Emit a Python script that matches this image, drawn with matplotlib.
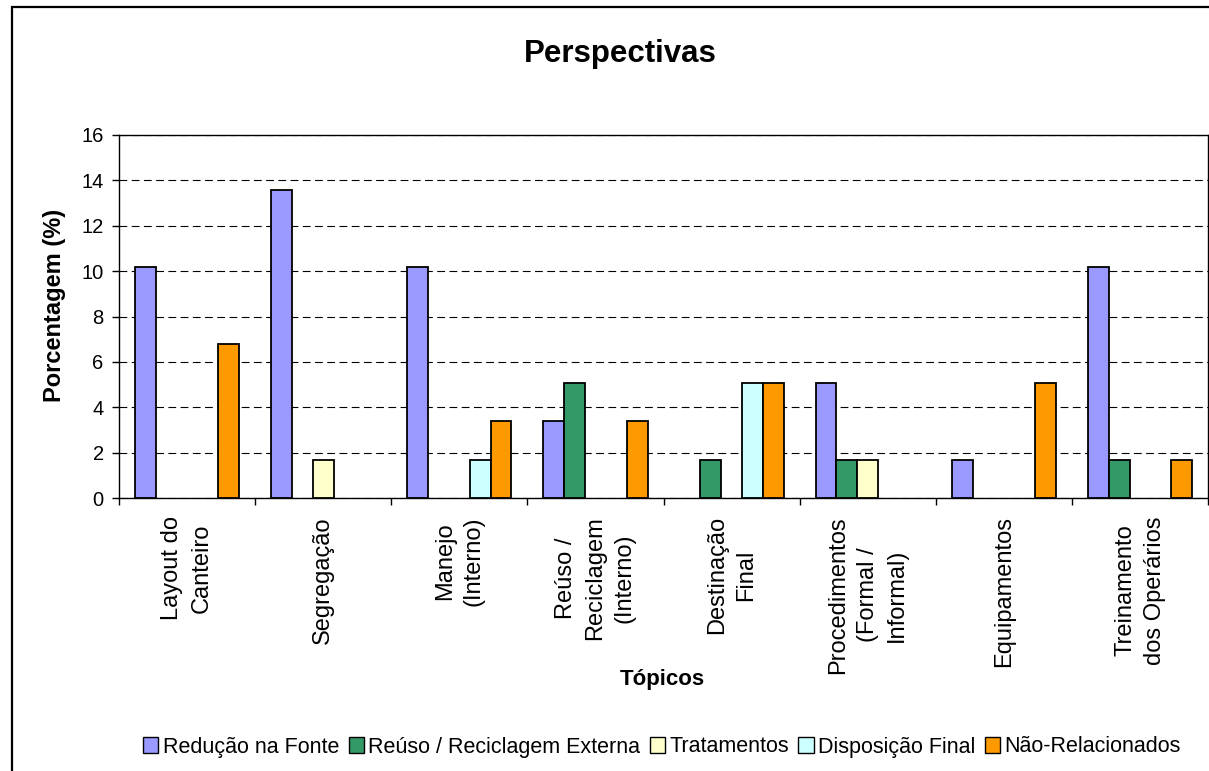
import numpy as np
import matplotlib.pyplot as plt
from matplotlib.patches import Rectangle

plt.rcParams['font.family'] = ['Liberation Sans', 'DejaVu Sans']

topicos = ["Layout do\nCanteiro", "Segregação", "Manejo\n(Interno)",
           "Reúso /\nReciclagem\n(Interno)", "Destinação\nFinal",
           "Procedimentos\n(Formal /\nInformal)", "Equipamentos",
           "Treinamento\ndos Operários"]

series_names = ["Redução na Fonte", "Reúso / Reciclagem Externa", "Tratamentos",
                "Disposição Final", "Não-Relacionados"]
series_colors = ["#9999FF", "#339966", "#FFFFCC", "#CCFFFF", "#FF9900"]

reducao = [10.17, 13.56, 10.17, 3.39, 0, 5.08, 1.69, 10.17]
reuso_ext = [0, 0, 0, 5.08, 1.69, 1.69, 0, 1.69]
tratamentos = [0, 1.69, 0, 0, 0, 1.69, 0, 0]
disposicao = [0, 0, 1.69, 0, 5.08, 0, 0, 0]
nao_rel = [6.78, 0, 3.39, 3.39, 5.08, 0, 5.08, 1.69]
series = [reducao, reuso_ext, tratamentos, disposicao, nao_rel]

W, H = 1209, 771
fig = plt.figure(figsize=(W / 100, H / 100), dpi=100)
ax = fig.add_axes([119 / W, 1 - 498 / H, (1208 - 119) / W, (498 - 135) / H])

x = np.arange(len(topicos))
bw = 0.153
for i, (vals, name, col) in enumerate(zip(series, series_names, series_colors)):
    vals = np.array(vals)
    pos = x + (i - 2) * bw
    m = vals > 0
    ax.bar(pos[m], vals[m], bw, color=col, edgecolor='black', linewidth=1.3,
           zorder=3)
    # proxy for legend
    ax.bar([0], [0], 0, color=col, edgecolor='black', linewidth=1.0, label=name)

ax.set_xlim(-0.5, len(topicos) - 0.5)
ax.set_ylim(0, 16)
ax.set_yticks(np.arange(0, 17, 2))
ax.yaxis.grid(True, color='black', linestyle=(0, (7, 4)), linewidth=0.8, zorder=0)
ax.set_axisbelow(True)

ax.set_xticks(np.arange(-0.5, len(topicos), 1))
ax.set_xticklabels([])
ax.set_xticks(x, minor=True)
ax.set_xticklabels(topicos, minor=True, rotation=90, ha='center', va='top',
                   multialignment='center', fontsize=17, linespacing=1.43)
ax.tick_params(axis='x', which='minor', length=0, pad=13)
ax.tick_params(axis='x', which='major', length=5, width=1, direction='out')
ax.tick_params(axis='y', length=5, width=1, direction='out', labelsize=14.5, pad=6)

for s in ax.spines.values():
    s.set_linewidth(1)
    s.set_color('black')

fig.text(620 / W, 1 - 62 / H, "Perspectivas", fontsize=22.5, fontweight='bold',
         ha='center', va='baseline')
fig.text(54 / W, 1 - 305 / H, "Porcentagem (%)", fontsize=17, fontweight='bold',
         ha='center', va='center', rotation=90)
fig.text(662 / W, 1 - 679 / H, "Tópicos", fontsize=16, fontweight='bold',
         ha='center', va='center')

leg = fig.legend(loc='center', bbox_to_anchor=(662 / W, 1 - 747 / H), ncol=5,
                 frameon=False, fontsize=15.5, handlelength=0.7, handleheight=0.7,
                 handletextpad=0.2, columnspacing=0.45, borderaxespad=0)

fig.patches.append(Rectangle((12 / W, -0.1), 1.2, 1.1 - 7 / H,
                             transform=fig.transFigure, fill=False,
                             edgecolor='black', linewidth=1.6))

fig.savefig('out.png', dpi=100)
